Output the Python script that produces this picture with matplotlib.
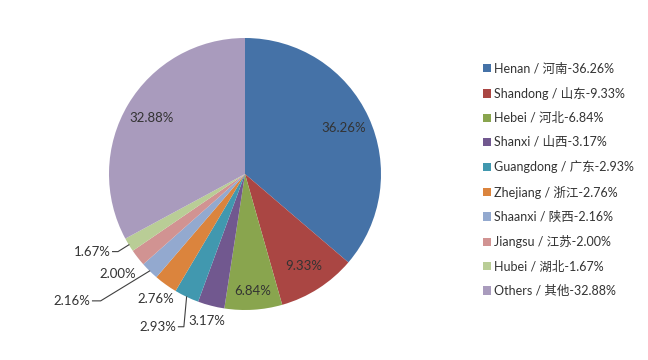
import numpy as np
import matplotlib
matplotlib.use('Agg')
import matplotlib.pyplot as plt

plt.rcParams['font.family'] = ['Lato', 'Noto Sans CJK SC', 'DejaVu Sans']

# data
provinces_en = ["Henan", "Shandong", "Hebei", "Shanxi", "Guangdong",
                "Zhejiang", "Shaanxi", "Jiangsu", "Hubei", "Others"]
provinces_cn = ["河南", "山东", "河北", "山西", "广东",
                "浙江", "陕西", "江苏", "湖北", "其他"]
shares = [36.26, 9.33, 6.84, 3.17, 2.93, 2.76, 2.16, 2.00, 1.67, 32.88]
colors = ['#4572A7', '#AA4643', '#89A54E', '#71588F', '#4198AF',
          '#DB843D', '#93A9CF', '#D19392', '#B9CD96', '#A99BBD']

# label placement: (radius factor, dx, dy in data units, leader line?)
label_pos = {
    0: (0.80, 0, 0, False),
    1: (0.80, 0, 0, False),
    2: (0.86, 0, 0, False),
    3: (1.12, 0, 0, False),
    4: (1.0, -0.06, -0.22, True),
    5: (1.13, 0, 0, False),
    6: (1.0, -0.42, -0.22, True),
    7: (1.19, 0, 0, False),
    8: (1.0, -0.12, -0.05, True),
    9: (0.80, 0, 0, False),
}

fig = plt.figure(figsize=(6.48, 3.6), dpi=100)
ax = fig.add_axes([(245 - 136) / 648, (360 - 174 - 136) / 360, 272 / 648, 272 / 360])

wedges, _ = ax.pie(shares, colors=colors, startangle=90, counterclock=False,
                   wedgeprops=dict(linewidth=0))
ax.set_xlim(-1, 1)
ax.set_ylim(-1, 1)
ax.set_aspect('equal')

for i, w in enumerate(wedges):
    ang = np.deg2rad((w.theta1 + w.theta2) / 2)
    r, dx, dy, leader = label_pos[i]
    txt = f"{shares[i]:.2f}%"
    x, y = r * np.cos(ang), r * np.sin(ang)
    if leader:
        ex, ey = 1.0 * np.cos(ang), 1.0 * np.sin(ang)
        tx, ty = ex + dx, ey + dy
        if i == 4:
            pts = [(ex, ey), (ex - 0.02, ty), (tx, ty)]
        elif i == 6:
            pts = [(ex, ey), (tx + 0.06, ty), (tx, ty)]
        else:
            pts = [(ex, ey), (tx + 0.04, ty), (tx, ty)]
        xs, ys = zip(*pts)
        ax.plot(xs, ys, color='#404040', lw=0.8, clip_on=False)
        ax.text(tx - 0.015, ty, txt, ha='right', va='center', fontsize=9.5,
                color='#333333')
    else:
        ax.text(x, y, txt, ha='center', va='center', fontsize=9.5,
                color='#333333')

labels = [f"{e} / {c}-{s:.2f}%" for e, c, s in zip(provinces_en, provinces_cn, shares)]
leg = fig.legend(wedges, labels, loc='upper left', bbox_to_anchor=(0.737, 0.84),
                 frameon=False, fontsize=9, handlelength=0.65, handleheight=0.65,
                 handletextpad=0.3, labelspacing=0.98, borderaxespad=0,
                 labelcolor='#333333')

fig.savefig('out.png', dpi=100)
